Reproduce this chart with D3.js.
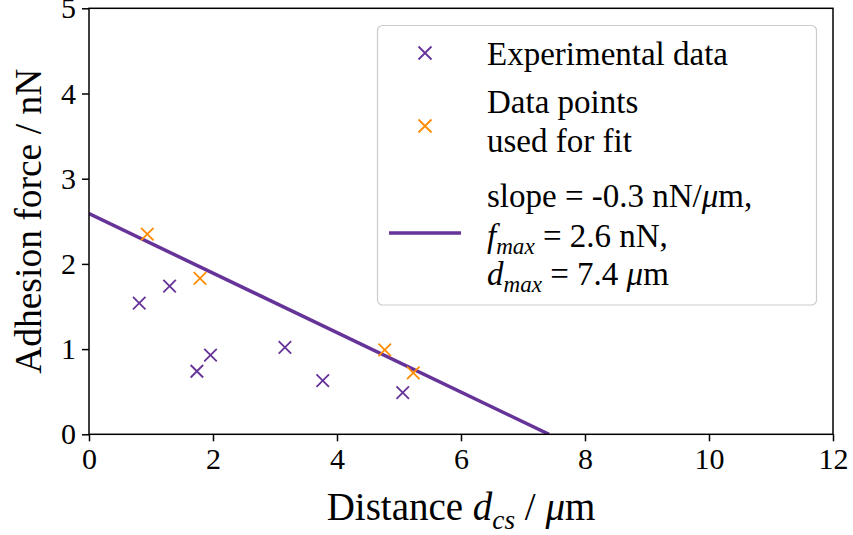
<!DOCTYPE html>
<html>
<head>
<meta charset="utf-8">
<script src="https://cdn.jsdelivr.net/npm/d3@7"></script>
<style>
  body { margin: 0; background: #fff; }
  svg { display: block; }
  text { font-family: "Liberation Serif", "DejaVu Serif", serif; fill: #000; }
</style>
</head>
<body>
<svg id="chart" width="853" height="535"></svg>
<script>
// ---- data ----
const expX = [0.81, 1.30, 1.74, 1.96, 3.16, 3.77, 5.06];
const expY = [1.54, 1.74, 0.74, 0.93, 1.02, 0.63, 0.49];
const fitX = [0.94, 1.79, 4.77, 5.23];
const fitY = [2.35, 1.83, 0.99, 0.72];
const lineX = [0, 7.42];
const lineY = [2.59, 0];
const xTicks = [0, 2, 4, 6, 8, 10, 12];
const yTicks = [0, 1, 2, 3, 4, 5];

const purple = "#663399", orange = "#ff8c00";
const W = 853, H = 535;
const margin = {left: 89, right: 20, top: 8.3, bottom: 100.7};
const svg = d3.select("#chart");

const x = d3.scaleLinear().domain([0, 12]).range([margin.left, W - margin.right]);
const y = d3.scaleLinear().domain([0, 5]).range([H - margin.bottom, margin.top]);

// clip
svg.append("defs").append("clipPath").attr("id", "clip")
  .append("rect").attr("x", x(0)).attr("y", y(5)).attr("width", x(12) - x(0)).attr("height", y(0) - y(5));

const plot = svg.append("g").attr("clip-path", "url(#clip)");

// fit line
plot.append("path")
  .datum(lineX.map((d, i) => [d, lineY[i]]))
  .attr("d", d3.line().x(d => x(d[0])).y(d => y(d[1])))
  .attr("fill", "none").attr("stroke", purple).attr("stroke-width", 3.5);

function crossPath(cx, cy, s) {
  const h = s / 2;
  return `M${cx - h},${cy - h}L${cx + h},${cy + h}M${cx - h},${cy + h}L${cx + h},${cy - h}`;
}
const ms = 12.5;
plot.selectAll(".exp").data(expX.map((d, i) => [d, expY[i]])).join("path")
  .attr("d", d => crossPath(x(d[0]), y(d[1]), ms))
  .attr("stroke", purple).attr("stroke-width", 1.8).attr("fill", "none");
plot.selectAll(".fit").data(fitX.map((d, i) => [d, fitY[i]])).join("path")
  .attr("d", d => crossPath(x(d[0]), y(d[1]), ms))
  .attr("stroke", orange).attr("stroke-width", 1.8).attr("fill", "none");

// axes
const tickFont = 30;
const xAxis = svg.append("g").attr("transform", `translate(0,${y(0)})`)
  .call(d3.axisBottom(x).tickValues(xTicks).tickSize(7).tickPadding(6).tickFormat(d3.format("d")));
const yAxis = svg.append("g").attr("transform", `translate(${x(0)},0)`)
  .call(d3.axisLeft(y).tickValues(yTicks).tickSize(7).tickPadding(6).tickFormat(d3.format("d")));
[xAxis, yAxis].forEach(a => {
  a.select(".domain").remove();
  a.selectAll(".tick line").attr("stroke", "#000").attr("stroke-width", 1.5);
  a.selectAll(".tick text").attr("font-size", tickFont).attr("font-family", "Liberation Serif").attr("fill", "#000");
});

// frame
svg.append("rect").attr("x", x(0)).attr("y", y(5))
  .attr("width", x(12) - x(0)).attr("height", y(0) - y(5))
  .attr("fill", "none").attr("stroke", "#000").attr("stroke-width", 1.5);

// rich text helper
function rich(sel, segs, size) {
  segs.forEach(s => {
    const ts = sel.append("tspan").text(s.t);
    if (s.i) ts.attr("font-style", "italic");
    if (s.sub) ts.attr("font-size", size * 0.7).attr("dy", size * 0.22).attr("font-style", "italic");
    if (s.up) ts.attr("dy", -size * 0.22);
  });
}

// axis labels
const labSize = 39;
const xl = svg.append("text").attr("x", (x(0) + x(12)) / 2).attr("y", 520)
  .attr("text-anchor", "middle").attr("font-size", labSize);
rich(xl, [{t: "Distance "}, {t: "d", i: true}, {t: "cs", sub: true}, {t: " / ", up: true}, {t: "μ", i: true}, {t: "m"}], labSize);

const yl = svg.append("text").attr("transform", `translate(41,${(y(0) + y(5)) / 2}) rotate(-90)`)
  .attr("text-anchor", "middle").attr("font-size", 37.5).text("Adhesion force / nN");

// legend
const lg = svg.append("g");
lg.append("rect").attr("x", 377.5).attr("y", 25.5).attr("width", 439).attr("height", 279.5)
  .attr("rx", 5).attr("fill", "#fff").attr("fill-opacity", 0.8)
  .attr("stroke", "#cccccc").attr("stroke-width", 1.2);
const legSize = 33;
const tx = 487;
lg.append("path").attr("d", crossPath(425, 53, 13)).attr("stroke", purple).attr("stroke-width", 1.8);
lg.append("path").attr("d", crossPath(425, 126, 13)).attr("stroke", orange).attr("stroke-width", 1.8);
lg.append("line").attr("x1", 389).attr("x2", 461).attr("y1", 233).attr("y2", 233)
  .attr("stroke", purple).attr("stroke-width", 3.5);

const legLines = [
  {y: 65, segs: [{t: "Experimental data"}]},
  {y: 113, segs: [{t: "Data points"}]},
  {y: 152, segs: [{t: "used for fit"}]},
  {y: 207, segs: [{t: "slope = -0.3 nN/"}, {t: "μ", i: true}, {t: "m,"}]},
  {y: 247, segs: [{t: "f", i: true}, {t: "max", sub: true}, {t: " = 2.6 nN,", up: true}]},
  {y: 285, segs: [{t: "d", i: true}, {t: "max", sub: true}, {t: " = 7.4 ", up: true}, {t: "μ", i: true}, {t: "m"}]}
];
legLines.forEach(l => {
  const t = lg.append("text").attr("x", tx).attr("y", l.y).attr("font-size", legSize);
  rich(t, l.segs, legSize);
});
</script>
</body>
</html>
